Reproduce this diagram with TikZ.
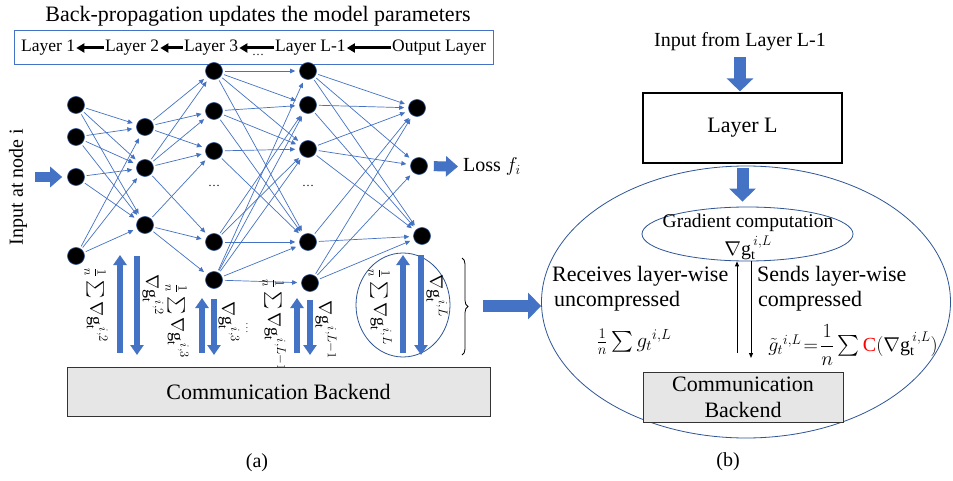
\RequirePackage{fix-cm}
\documentclass[tikz,border=0pt]{standalone}
\usepackage{exscale}
\usepackage{fontspec}
\setmainfont{Liberation Serif}
\usetikzlibrary{arrows.meta,shapes.geometric,decorations.pathreplacing,calc}
\definecolor{obl}{RGB}{68,114,196}
\definecolor{dbl}{RGB}{47,85,151}
\definecolor{cbg}{RGB}{230,230,230}
\newcommand{\fs}[1]{\fontsize{#1}{#1}\selectfont}
\begin{document}
\begin{tikzpicture}[x=1pt,y=-1pt,
  neuron/.style={circle,fill=black,draw=dbl,line width=0.6pt,minimum size=17pt,inner sep=0pt},
  edge/.style={draw=obl,line width=0.7pt,-{Triangle[length=5pt,width=4.5pt]},shorten <=2pt,shorten >=4pt},
  blk/.style={draw=obl,line width=10pt,-{Triangle[length=12pt,width=20pt]}},
  bblk/.style={draw=obl,line width=12pt,-{Triangle[length=13pt,width=26pt]}},
  vup/.style={draw=obl,line width=6pt,-{Triangle[length=10pt,width=13pt]}},
  bk/.style={draw=black,line width=3pt,-{Triangle[length=8pt,width=9pt]},shorten >=1pt,shorten <=1pt},
  thinar/.style={draw=black,line width=1pt,-{Triangle[length=5pt,width=4pt]}},
  lt/.style={font=\fs{17.5},inner sep=0pt,anchor=west,text height=0.9em,text depth=0.2em},
  lab/.style={rotate=-90,font=\fs{18},inner sep=0pt},
  txt/.style={font=\fs{22},inner sep=0pt,anchor=west},
  ell/.style={draw=dbl,ellipse,line width=0.8pt,inner sep=0pt},
  cbox/.style={draw=black!80,fill=cbg,line width=0.8pt}
]
\fill[white] (0,0) rectangle (953,481);
\useasboundingbox (0,0) rectangle (953,481);

% ---------- (a) ----------
\node[font=\fs{22}] (title) at (258,16) {Back-propagation updates the model parameters};
\node[draw=obl,line width=0.8pt,minimum width=479pt,minimum height=34pt,inner sep=0pt] (lbox) at (253.5,47) {};
\node[lt] (t1) at (21,48) {Layer 1};
\node[lt] (t2) at (105,48) {Layer 2};
\node[lt] (t3) at (184,48) {Layer 3};
\node[lt] (t4) at (275,48) {Layer L-1};
\node[lt] (t5) at (392,48) {Output Layer};
\draw[bk] (t2.west) -- (t1.east);
\draw[bk] (t3.west) -- (t2.east);
\draw[bk] (t4.west) -- (t3.east);
\draw[bk] (t5.west) -- (t4.east);
\node[font=\fs{12},inner sep=0pt] (tdots) at (258,55) {\dots};

% neurons
\node[neuron] (a1) at (76,105) {};
\node[neuron] (a2) at (76,137) {};
\node[neuron] (a3) at (76,177) {};
\node[neuron] (a4) at (76,256) {};
\node[neuron] (b1) at (145,127) {};
\node[neuron] (b2) at (145,168) {};
\node[neuron] (b3) at (145,225) {};
\node[neuron] (c1) at (214,71) {};
\node[neuron] (c2) at (214,111) {};
\node[neuron] (c3) at (214,151) {};
\node[neuron] (c4) at (214,242) {};
\node[neuron] (c5) at (214,280) {};
\node[neuron] (d1) at (308,71) {};
\node[neuron] (d2) at (308,105) {};
\node[neuron] (d3) at (308,149) {};
\node[neuron] (d4) at (308,242) {};
\node[neuron] (d5) at (310,283) {};
\node[neuron] (e1) at (417,108) {};
\node[neuron] (e2) at (419,166) {};
\node[neuron] (e3) at (422,236) {};
\node[font=\fs{12},inner sep=0pt] (cdots) at (214,186) {\dots};
\node[font=\fs{12},inner sep=0pt] (ddots) at (308,186) {\dots};

\foreach \s/\t in {a1/b1,a1/b2,a1/b3,a2/b1,a2/b2,a2/b3,a3/b2,a3/b3,a4/b1,a4/b2,a4/b3,
  b1/c1,b1/c2,b1/c3,b2/c1,b2/c2,b2/c3,b2/c4,b3/c3,b3/c4,b3/c5,
  c1/d1,c1/d2,c1/d3,c1/d4,c2/d2,c2/d3,c2/d4,c3/d3,c3/d4,c4/d2,c4/d3,c4/d4,
  c5/d1,c5/d2,c5/d3,c5/d4,c5/d5,
  d1/e1,d1/e2,d1/e3,d2/e1,d2/e3,d3/e1,d3/e2,d3/e3,d4/e1,d4/e3,d5/e1,d5/e2,d5/e3}
  \draw[edge] (\s) -- (\t);

% input and loss
\node[rotate=90,font=\fs{20}] (inp) at (18,187) {Input at node i};
\coordinate (inA) at (35,177);
\draw[blk,shorten >=5pt] (inA) -- (a3);
\node[anchor=west,font=\fs{20},inner sep=0pt] (loss) at (463,167) {Loss $f_i$};
\draw[blk,shorten <=6pt,shorten >=5pt] (e2) -- (loss);

% vertical arrow pairs
\coordinate (p1b) at (120,353); \coordinate (p1t) at (120,255);
\draw[vup] (p1b) -- (p1t);
\coordinate (q1t) at (137,256); \coordinate (q1b) at (137,355);
\draw[vup] (q1t) -- (q1b);
\coordinate (p2b) at (202,353); \coordinate (p2t) at (202,298);
\draw[vup] (p2b) -- (p2t);
\coordinate (q2b) at (214,355);
\draw[vup,shorten <=10pt] (c5) -- (q2b);
\coordinate (p3b) at (297,353); \coordinate (p3t) at (297,298);
\draw[vup] (p3b) -- (p3t);
\coordinate (q3b) at (310,355);
\draw[vup,shorten <=8pt] (d5) -- (q3b);
\node[ell,minimum width=94pt,minimum height=104pt] (zc) at (403,305) {};
\coordinate (p4b) at (403,353); \coordinate (p4t) at (403,255);
\draw[vup] (p4b) -- (p4t);
\coordinate (q4t) at (421,255); \coordinate (q4b) at (421,355);
\draw[vup] (q4t) -- (q4b);

% rotated labels
\node[lab] (l1a) at (96,305) {$\frac{1}{n}\sum\nabla\mathrm{g}_\mathrm{t}^{\,i,2}$};
\node[lab] (l1b) at (153,295) {$\nabla\mathrm{g}_\mathrm{t}^{\,i,2}$};
\node[lab] (l2a) at (177,321) {$\frac{1}{n}\sum\nabla\mathrm{g}_\mathrm{t}^{\,i,3}$};
\node[lab] (l2b) at (229,322) {$\nabla\mathrm{g}_\mathrm{t}^{\,i,3}$};
\node[font=\fs{9},inner sep=0pt] (vd) at (247,325) {$\vdots$};
\node[lab] (l3a) at (274,325) {$\frac{1}{n}\sum\nabla\mathrm{g}_\mathrm{t}^{\,i,L-1}$};
\node[lab] (l3b) at (326,330) {$\nabla\mathrm{g}_\mathrm{t}^{\,i,L-1}$};
\node[lab] (l4a) at (380,307) {$\frac{1}{n}\sum\nabla\mathrm{g}_\mathrm{t}^{\,i,L}$};
\node[lab] (l4b) at (437,296) {$\nabla\mathrm{g}_\mathrm{t}^{\,i,L}$};

% brace
\draw[decorate,decoration={brace,amplitude=6pt},line width=0.8pt] (462,258) -- (462,355);

% communication backend (a)
\node[cbox,minimum width=423pt,minimum height=49pt,font=\fs{22}] (cba) at (278.5,391.5) {Communication Backend};
\node[font=\fs{20}] (capa) at (257,463) {(a)};

% ---------- (b) ----------
\node[ell,minimum width=409pt,minimum height=272pt] (E) at (746,302) {};
\coordinate (bt) at (483,306);
\draw[bblk] (bt) -- (bt -| E.west);

\node[font=\fs{20}] (inL) at (740,42) {Input from Layer L-1};
\node[draw=black,line width=1.2pt,minimum width=199pt,minimum height=70pt,font=\fs{22}] (LL) at (742.5,128) {Layer L};
\draw[bblk,shorten <=2pt,shorten >=1pt] (inL.south) -- (inL.south |- LL.north);

\node[ell,minimum width=211pt,minimum height=54pt] (G) at (747.5,234) {};
\node[font=\fs{19.5},inner sep=0pt] (gt1) at (748,223) {Gradient computation};
\node[font=\fs{20},inner sep=0pt] (gt2) at (748,248) {$\nabla\mathrm{g}_\mathrm{t}^{\,i,L}$};
\draw[bblk,shorten <=4pt,shorten >=5pt] (LL.south) -- (LL.south |- G.north);

\node[txt] (r1) at (552,276) {Receives layer-wise};
\node[txt] (r2) at (554,301) {uncompressed};
\node[font=\fs{21},inner sep=0pt] (r3) at (634,342) {$\frac{1}{n}\sum g_t{}^{i,L}$};
\node[txt] (s1) at (757,276) {Sends layer-wise};
\node[txt] (s2) at (758,301) {compressed};
\node[font=\fs{20},inner sep=0pt] (s3) at (853,345) {$\tilde g_t{}^{i,L}\!=\!{\displaystyle\frac{1}{n}}\sum\textcolor{red}{\mathrm{C}}(\nabla\mathrm{g}_\mathrm{t}^{\,i,L})$};

\coordinate (ua) at (737,353);
\draw[thinar] (ua) -- (ua |- G.south);
\coordinate (da) at (751,358);
\draw[thinar] (G.south -| da) -- (da);

\node[cbox,minimum width=200pt,minimum height=50pt,align=center,font=\fontsize{22}{26}\selectfont] (cbb) at (743,397) {Communication\\Backend};
\node[font=\fs{20}] (capb) at (728,462) {(b)};
\end{tikzpicture}
\end{document}
